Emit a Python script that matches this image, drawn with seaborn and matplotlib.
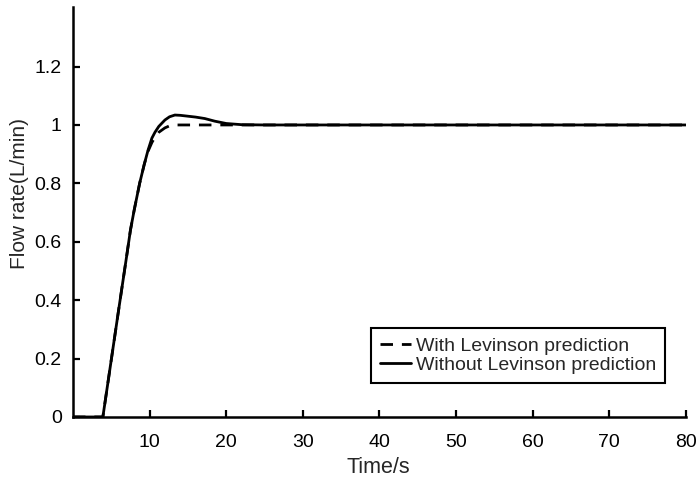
import matplotlib
matplotlib.use("Agg")
import matplotlib.pyplot as plt
import seaborn as sns
import pandas as pd

time_s = [0, 3.9, 5, 6, 7, 7.5, 8, 8.7, 9.3, 9.8, 10.3, 10.7, 11.2, 12, 12.6,
          13.3, 14, 15, 16, 17.2, 18.5, 20, 22, 25, 80]
with_levinson = [0, 0, 0.196, 0.374, 0.55, 0.64, 0.71, 0.80, 0.865, 0.91, 0.94,
                 0.958, 0.975, 0.99, 0.997, 1.0, 1.0, 1.0, 1.0, 1.0, 1.0, 1.0,
                 1.0, 1.0, 1.0]
without_levinson = [0, 0, 0.196, 0.374, 0.55, 0.64, 0.71, 0.80, 0.865, 0.914,
                    0.955, 0.975, 0.995, 1.017, 1.028, 1.034, 1.033, 1.03,
                    1.027, 1.022, 1.013, 1.005, 1.001, 1.0, 1.0]
series_names = ["With Levinson prediction", "Without Levinson prediction"]
x_ticks = [10, 20, 30, 40, 50, 60, 70, 80]
y_ticks = [0, 0.2, 0.4, 0.6, 0.8, 1.0, 1.2]
y_tick_labels = ["0", "0.2", "0.4", "0.6", "0.8", "1", "1.2"]

df = pd.DataFrame({
    "t": time_s * 2,
    "v": with_levinson + without_levinson,
    "s": [series_names[0]] * len(time_s) + [series_names[1]] * len(time_s),
})

sns.set_style("ticks")
plt.rcParams["font.family"] = ["Liberation Sans", "DejaVu Sans"]

fig = plt.figure(figsize=(6.99, 4.82), dpi=100)
ax = fig.add_axes([0.1044, 0.1349, 0.8770, 0.8506])

sns.lineplot(data=df, x="t", y="v", style="s", style_order=series_names,
             dashes={series_names[0]: (4.5, 3.2), series_names[1]: ""},
             color="black", linewidth=2.0, ax=ax, estimator=None, sort=False)

ax.set_xlim(0, 80)
ax.set_ylim(0, 1.404)
ax.set_xticks(x_ticks)
ax.set_yticks(y_ticks)
ax.set_yticklabels(y_tick_labels)
ax.tick_params(direction="in", length=5, width=1.6, labelsize=14, colors="black")
ax.tick_params(axis="x", pad=12.5)
ax.tick_params(axis="y", pad=8)
for sp in ["left", "bottom"]:
    ax.spines[sp].set_linewidth(1.8)
    ax.spines[sp].set_color("black")
ax.spines["top"].set_visible(False)
ax.spines["right"].set_visible(False)
ax.set_xlabel("Time/s", fontsize=15.5)
ax.set_ylabel("Flow rate(L/min)", fontsize=15)
ax.xaxis.set_label_coords(0.4975, -0.098)
ax.yaxis.set_label_coords(-0.072, 0.546)

leg = ax.legend(loc="lower right", bbox_to_anchor=(0.966, 0.083), fontsize=14,
                frameon=True, fancybox=False, edgecolor="black", framealpha=1,
                handlelength=1.6, handletextpad=0.25, borderpad=0.45, labelspacing=0.1,
                borderaxespad=0)
leg.get_frame().set_linewidth(1.5)
for ln in leg.get_lines():
    ln.set_linewidth(2.0)

fig.savefig("out.png", dpi=100)
